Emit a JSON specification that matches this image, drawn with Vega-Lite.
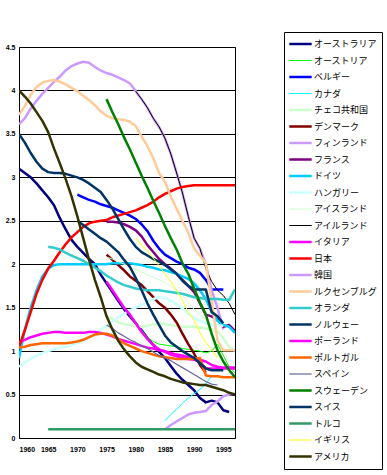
{
  "$schema": "https://vega.github.io/schema/vega-lite/v6.json",
  "autosize": "none",
  "width": 216,
  "height": 391,
  "padding": {"left": 19, "top": 47, "right": 152, "bottom": 37},
  "background": "white",
  "config": {
    "view": {"stroke": "black", "strokeWidth": 1},
    "font": "Liberation Sans"
  },
  "datasets": {
    "series": [
      {"c":"オーストラリア","y":1960,"v":3.10},{"c":"オーストラリア","y":1961,"v":3.05},{"c":"オーストラリア","y":1962,"v":3.00},{"c":"オーストラリア","y":1963,"v":2.93},{"c":"オーストラリア","y":1964,"v":2.85},{"c":"オーストラリア","y":1965,"v":2.77},{"c":"オーストラリア","y":1966,"v":2.68},{"c":"オーストラリア","y":1967,"v":2.53},{"c":"オーストラリア","y":1968,"v":2.40},{"c":"オーストラリア","y":1969,"v":2.28},{"c":"オーストラリア","y":1970,"v":2.20},{"c":"オーストラリア","y":1971,"v":2.13},{"c":"オーストラリア","y":1972,"v":2.06},{"c":"オーストラリア","y":1973,"v":2.00},{"c":"オーストラリア","y":1974,"v":1.88},{"c":"オーストラリア","y":1975,"v":1.78},{"c":"オーストラリア","y":1976,"v":1.68},{"c":"オーストラリア","y":1977,"v":1.58},{"c":"オーストラリア","y":1978,"v":1.48},{"c":"オーストラリア","y":1979,"v":1.40},{"c":"オーストラリア","y":1980,"v":1.32},{"c":"オーストラリア","y":1981,"v":1.24},{"c":"オーストラリア","y":1982,"v":1.15},{"c":"オーストラリア","y":1983,"v":1.07},{"c":"オーストラリア","y":1984,"v":0.99},{"c":"オーストラリア","y":1985,"v":0.92},{"c":"オーストラリア","y":1986,"v":0.83},{"c":"オーストラリア","y":1987,"v":0.74},{"c":"オーストラリア","y":1988,"v":0.67},{"c":"オーストラリア","y":1989,"v":0.61},{"c":"オーストラリア","y":1990,"v":0.55},{"c":"オーストラリア","y":1991,"v":0.46},{"c":"オーストラリア","y":1992,"v":0.41},{"c":"オーストラリア","y":1993,"v":0.43},{"c":"オーストラリア","y":1994,"v":0.41},{"c":"オーストラリア","y":1995,"v":0.32},{"c":"オーストラリア","y":1996,"v":0.30},
      {"c":"オーストリア","y":1979,"v":1.40},{"c":"オーストリア","y":1980,"v":1.32},{"c":"オーストリア","y":1981,"v":1.24},{"c":"オーストリア","y":1982,"v":1.16},{"c":"オーストリア","y":1983,"v":1.11},{"c":"オーストリア","y":1984,"v":1.08},{"c":"オーストリア","y":1985,"v":1.07},{"c":"オーストリア","y":1986,"v":1.06},{"c":"オーストリア","y":1987,"v":1.05},{"c":"オーストリア","y":1988,"v":1.03},{"c":"オーストリア","y":1989,"v":1.02},{"c":"オーストリア","y":1990,"v":1.01},{"c":"オーストリア","y":1991,"v":1.00},{"c":"オーストリア","y":1992,"v":0.98},{"c":"オーストリア","y":1993,"v":1.00},{"c":"オーストリア","y":1994,"v":1.08},{"c":"オーストリア","y":1995,"v":0.95},{"c":"オーストリア","y":1996,"v":0.82},{"c":"オーストリア","y":1997,"v":0.75},
      {"c":"ベルギー","y":1970,"v":2.80},{"c":"ベルギー","y":1971,"v":2.77},{"c":"ベルギー","y":1972,"v":2.74},{"c":"ベルギー","y":1973,"v":2.72},{"c":"ベルギー","y":1974,"v":2.69},{"c":"ベルギー","y":1975,"v":2.67},{"c":"ベルギー","y":1976,"v":2.65},{"c":"ベルギー","y":1977,"v":2.62},{"c":"ベルギー","y":1978,"v":2.59},{"c":"ベルギー","y":1979,"v":2.56},{"c":"ベルギー","y":1980,"v":2.52},{"c":"ベルギー","y":1981,"v":2.46},{"c":"ベルギー","y":1982,"v":2.38},{"c":"ベルギー","y":1983,"v":2.27},{"c":"ベルギー","y":1984,"v":2.18},{"c":"ベルギー","y":1985,"v":2.11},{"c":"ベルギー","y":1986,"v":2.07},{"c":"ベルギー","y":1987,"v":2.03},{"c":"ベルギー","y":1988,"v":2.00},{"c":"ベルギー","y":1989,"v":1.96},{"c":"ベルギー","y":1990,"v":1.94},{"c":"ベルギー","y":1991,"v":1.90},{"c":"ベルギー","y":1992,"v":1.82},{"c":"ベルギー","y":1993,"v":1.71},{"c":"ベルギー","y":1994,"v":1.71},{"c":"ベルギー","y":1995,"v":1.71},
      {"c":"カナダ","y":1985,"v":0.20},{"c":"カナダ","y":1986,"v":0.27},{"c":"カナダ","y":1987,"v":0.33},{"c":"カナダ","y":1988,"v":0.40},{"c":"カナダ","y":1989,"v":0.46},{"c":"カナダ","y":1990,"v":0.51},{"c":"カナダ","y":1991,"v":0.56},{"c":"カナダ","y":1992,"v":0.62},{"c":"カナダ","y":1993,"v":0.72},
      {"c":"チェコ共和国","y":1975,"v":1.40},{"c":"チェコ共和国","y":1976,"v":1.37},{"c":"チェコ共和国","y":1977,"v":1.33},{"c":"チェコ共和国","y":1978,"v":1.31},{"c":"チェコ共和国","y":1979,"v":1.30},{"c":"チェコ共和国","y":1980,"v":1.29},{"c":"チェコ共和国","y":1981,"v":1.28},{"c":"チェコ共和国","y":1982,"v":1.29},{"c":"チェコ共和国","y":1983,"v":1.31},{"c":"チェコ共和国","y":1984,"v":1.32},{"c":"チェコ共和国","y":1985,"v":1.31},{"c":"チェコ共和国","y":1986,"v":1.30},{"c":"チェコ共和国","y":1987,"v":1.29},{"c":"チェコ共和国","y":1988,"v":1.28},{"c":"チェコ共和国","y":1989,"v":1.28},{"c":"チェコ共和国","y":1990,"v":1.28},{"c":"チェコ共和国","y":1991,"v":1.27},{"c":"チェコ共和国","y":1992,"v":1.26},{"c":"チェコ共和国","y":1993,"v":1.25},{"c":"チェコ共和国","y":1994,"v":1.23},{"c":"チェコ共和国","y":1995,"v":1.15},{"c":"チェコ共和国","y":1996,"v":1.05},{"c":"チェコ共和国","y":1997,"v":1.00},
      {"c":"デンマーク","y":1975,"v":2.11},{"c":"デンマーク","y":1976,"v":2.05},{"c":"デンマーク","y":1977,"v":1.99},{"c":"デンマーク","y":1978,"v":1.93},{"c":"デンマーク","y":1979,"v":1.86},{"c":"デンマーク","y":1980,"v":1.81},{"c":"デンマーク","y":1981,"v":1.76},{"c":"デンマーク","y":1982,"v":1.69},{"c":"デンマーク","y":1983,"v":1.62},{"c":"デンマーク","y":1984,"v":1.55},{"c":"デンマーク","y":1985,"v":1.50},{"c":"デンマーク","y":1986,"v":1.42},{"c":"デンマーク","y":1987,"v":1.33},{"c":"デンマーク","y":1988,"v":1.20},{"c":"デンマーク","y":1989,"v":1.08},{"c":"デンマーク","y":1990,"v":0.97},{"c":"デンマーク","y":1991,"v":0.84},{"c":"デンマーク","y":1992,"v":0.75},
      {"c":"フィンランド","y":1960,"v":3.61},{"c":"フィンランド","y":1961,"v":3.68},{"c":"フィンランド","y":1962,"v":3.79},{"c":"フィンランド","y":1963,"v":3.88},{"c":"フィンランド","y":1964,"v":3.96},{"c":"フィンランド","y":1965,"v":4.03},{"c":"フィンランド","y":1966,"v":4.10},{"c":"フィンランド","y":1967,"v":4.16},{"c":"フィンランド","y":1968,"v":4.23},{"c":"フィンランド","y":1969,"v":4.28},{"c":"フィンランド","y":1970,"v":4.31},{"c":"フィンランド","y":1971,"v":4.33},{"c":"フィンランド","y":1972,"v":4.32},{"c":"フィンランド","y":1973,"v":4.27},{"c":"フィンランド","y":1974,"v":4.23},{"c":"フィンランド","y":1975,"v":4.20},{"c":"フィンランド","y":1976,"v":4.18},{"c":"フィンランド","y":1977,"v":4.15},{"c":"フィンランド","y":1978,"v":4.12},{"c":"フィンランド","y":1979,"v":4.08},{"c":"フィンランド","y":1980,"v":3.99},{"c":"フィンランド","y":1981,"v":3.90},{"c":"フィンランド","y":1982,"v":3.80},{"c":"フィンランド","y":1983,"v":3.68},{"c":"フィンランド","y":1984,"v":3.58},{"c":"フィンランド","y":1985,"v":3.45},{"c":"フィンランド","y":1986,"v":3.27},{"c":"フィンランド","y":1987,"v":3.05},{"c":"フィンランド","y":1988,"v":2.82},{"c":"フィンランド","y":1989,"v":2.55},{"c":"フィンランド","y":1990,"v":2.30},{"c":"フィンランド","y":1991,"v":2.18},{"c":"フィンランド","y":1992,"v":2.00},{"c":"フィンランド","y":1993,"v":1.70},{"c":"フィンランド","y":1994,"v":1.50},{"c":"フィンランド","y":1995,"v":1.25},
      {"c":"フランス","y":1975,"v":2.49},{"c":"フランス","y":1976,"v":2.49},{"c":"フランス","y":1977,"v":2.48},{"c":"フランス","y":1978,"v":2.46},{"c":"フランス","y":1979,"v":2.43},{"c":"フランス","y":1980,"v":2.39},{"c":"フランス","y":1981,"v":2.32},{"c":"フランス","y":1982,"v":2.22},{"c":"フランス","y":1983,"v":2.14},{"c":"フランス","y":1984,"v":2.06},{"c":"フランス","y":1985,"v":2.00},{"c":"フランス","y":1986,"v":1.95},{"c":"フランス","y":1987,"v":1.89},{"c":"フランス","y":1988,"v":1.82},{"c":"フランス","y":1989,"v":1.75},{"c":"フランス","y":1990,"v":1.68},{"c":"フランス","y":1991,"v":1.55},{"c":"フランス","y":1992,"v":1.42},{"c":"フランス","y":1993,"v":1.40},{"c":"フランス","y":1994,"v":1.36},{"c":"フランス","y":1995,"v":1.28},{"c":"フランス","y":1996,"v":1.30},{"c":"フランス","y":1997,"v":1.23},
      {"c":"ドイツ","y":1960,"v":0.92},{"c":"ドイツ","y":1961,"v":1.25},{"c":"ドイツ","y":1962,"v":1.50},{"c":"ドイツ","y":1963,"v":1.70},{"c":"ドイツ","y":1964,"v":1.86},{"c":"ドイツ","y":1965,"v":1.95},{"c":"ドイツ","y":1966,"v":1.99},{"c":"ドイツ","y":1967,"v":2.00},{"c":"ドイツ","y":1968,"v":2.00},{"c":"ドイツ","y":1969,"v":2.00},{"c":"ドイツ","y":1970,"v":2.00},{"c":"ドイツ","y":1971,"v":2.00},{"c":"ドイツ","y":1972,"v":2.00},{"c":"ドイツ","y":1973,"v":2.00},{"c":"ドイツ","y":1974,"v":2.00},{"c":"ドイツ","y":1975,"v":2.00},{"c":"ドイツ","y":1976,"v":2.01},{"c":"ドイツ","y":1977,"v":2.01},{"c":"ドイツ","y":1978,"v":2.01},{"c":"ドイツ","y":1979,"v":2.01},{"c":"ドイツ","y":1980,"v":2.00},{"c":"ドイツ","y":1981,"v":1.99},{"c":"ドイツ","y":1982,"v":1.97},{"c":"ドイツ","y":1983,"v":1.96},{"c":"ドイツ","y":1984,"v":1.94},{"c":"ドイツ","y":1985,"v":1.93},{"c":"ドイツ","y":1986,"v":1.91},{"c":"ドイツ","y":1987,"v":1.89},{"c":"ドイツ","y":1988,"v":1.86},{"c":"ドイツ","y":1989,"v":1.83},{"c":"ドイツ","y":1990,"v":1.78},{"c":"ドイツ","y":1991,"v":1.70},{"c":"ドイツ","y":1992,"v":1.60},{"c":"ドイツ","y":1993,"v":1.45},{"c":"ドイツ","y":1994,"v":1.35},{"c":"ドイツ","y":1995,"v":1.30},{"c":"ドイツ","y":1996,"v":1.28},{"c":"ドイツ","y":1997,"v":1.21},
      {"c":"ハンガリー","y":1960,"v":0.82},{"c":"ハンガリー","y":1961,"v":0.87},{"c":"ハンガリー","y":1962,"v":0.91},{"c":"ハンガリー","y":1963,"v":0.95},{"c":"ハンガリー","y":1964,"v":0.98},{"c":"ハンガリー","y":1965,"v":1.00},{"c":"ハンガリー","y":1966,"v":1.02},{"c":"ハンガリー","y":1967,"v":1.04},{"c":"ハンガリー","y":1968,"v":1.05},{"c":"ハンガリー","y":1969,"v":1.07},{"c":"ハンガリー","y":1970,"v":1.09},{"c":"ハンガリー","y":1971,"v":1.11},{"c":"ハンガリー","y":1972,"v":1.15},{"c":"ハンガリー","y":1973,"v":1.20},{"c":"ハンガリー","y":1974,"v":1.25},{"c":"ハンガリー","y":1975,"v":1.29},{"c":"ハンガリー","y":1976,"v":1.34},{"c":"ハンガリー","y":1977,"v":1.39},{"c":"ハンガリー","y":1978,"v":1.43},{"c":"ハンガリー","y":1979,"v":1.47},{"c":"ハンガリー","y":1980,"v":1.50},{"c":"ハンガリー","y":1981,"v":1.53},{"c":"ハンガリー","y":1982,"v":1.57},{"c":"ハンガリー","y":1983,"v":1.60},{"c":"ハンガリー","y":1984,"v":1.62},{"c":"ハンガリー","y":1985,"v":1.61},{"c":"ハンガリー","y":1986,"v":1.58},{"c":"ハンガリー","y":1987,"v":1.54},{"c":"ハンガリー","y":1988,"v":1.49},{"c":"ハンガリー","y":1989,"v":1.43},{"c":"ハンガリー","y":1990,"v":1.38},{"c":"ハンガリー","y":1991,"v":1.35},{"c":"ハンガリー","y":1992,"v":1.32},{"c":"ハンガリー","y":1993,"v":1.30},{"c":"ハンガリー","y":1994,"v":1.30},{"c":"ハンガリー","y":1995,"v":1.29},
      {"c":"アイスランド","y":1975,"v":2.08},{"c":"アイスランド","y":1976,"v":2.06},{"c":"アイスランド","y":1977,"v":2.03},{"c":"アイスランド","y":1978,"v":2.00},{"c":"アイスランド","y":1979,"v":1.97},{"c":"アイスランド","y":1980,"v":1.94},{"c":"アイスランド","y":1981,"v":1.91},{"c":"アイスランド","y":1982,"v":1.88},{"c":"アイスランド","y":1983,"v":1.85},{"c":"アイスランド","y":1984,"v":1.82},{"c":"アイスランド","y":1985,"v":1.79},{"c":"アイスランド","y":1986,"v":1.75},{"c":"アイスランド","y":1987,"v":1.70},{"c":"アイスランド","y":1988,"v":1.64},{"c":"アイスランド","y":1989,"v":1.56},{"c":"アイスランド","y":1990,"v":1.48},{"c":"アイスランド","y":1991,"v":1.42},{"c":"アイスランド","y":1992,"v":1.36},{"c":"アイスランド","y":1993,"v":1.30},
      {"c":"アイルランド","y":1980,"v":3.99},{"c":"アイルランド","y":1981,"v":3.90},{"c":"アイルランド","y":1982,"v":3.80},{"c":"アイルランド","y":1983,"v":3.68},{"c":"アイルランド","y":1984,"v":3.58},{"c":"アイルランド","y":1985,"v":3.45},{"c":"アイルランド","y":1986,"v":3.27},{"c":"アイルランド","y":1987,"v":3.05},{"c":"アイルランド","y":1988,"v":2.82},{"c":"アイルランド","y":1989,"v":2.55},{"c":"アイルランド","y":1990,"v":2.30},{"c":"アイルランド","y":1991,"v":2.18},{"c":"アイルランド","y":1992,"v":1.95},{"c":"アイルランド","y":1993,"v":1.80},{"c":"アイルランド","y":1994,"v":1.70},{"c":"アイルランド","y":1995,"v":1.64},{"c":"アイルランド","y":1996,"v":1.55},{"c":"アイルランド","y":1997,"v":1.42},
      {"c":"イタリア","y":1960,"v":1.10},{"c":"イタリア","y":1961,"v":1.13},{"c":"イタリア","y":1962,"v":1.16},{"c":"イタリア","y":1963,"v":1.18},{"c":"イタリア","y":1964,"v":1.20},{"c":"イタリア","y":1965,"v":1.21},{"c":"イタリア","y":1966,"v":1.22},{"c":"イタリア","y":1967,"v":1.22},{"c":"イタリア","y":1968,"v":1.21},{"c":"イタリア","y":1969,"v":1.21},{"c":"イタリア","y":1970,"v":1.21},{"c":"イタリア","y":1971,"v":1.21},{"c":"イタリア","y":1972,"v":1.22},{"c":"イタリア","y":1973,"v":1.22},{"c":"イタリア","y":1974,"v":1.21},{"c":"イタリア","y":1975,"v":1.19},{"c":"イタリア","y":1976,"v":1.17},{"c":"イタリア","y":1977,"v":1.14},{"c":"イタリア","y":1978,"v":1.12},{"c":"イタリア","y":1979,"v":1.10},{"c":"イタリア","y":1980,"v":1.08},{"c":"イタリア","y":1981,"v":1.06},{"c":"イタリア","y":1982,"v":1.04},{"c":"イタリア","y":1983,"v":1.03},{"c":"イタリア","y":1984,"v":1.01},{"c":"イタリア","y":1985,"v":1.00},{"c":"イタリア","y":1986,"v":0.98},{"c":"イタリア","y":1987,"v":0.96},{"c":"イタリア","y":1988,"v":0.95},{"c":"イタリア","y":1989,"v":0.93},{"c":"イタリア","y":1990,"v":0.92},{"c":"イタリア","y":1991,"v":0.90},{"c":"イタリア","y":1992,"v":0.88},{"c":"イタリア","y":1993,"v":0.84},{"c":"イタリア","y":1994,"v":0.82},{"c":"イタリア","y":1995,"v":0.81},{"c":"イタリア","y":1996,"v":0.81},{"c":"イタリア","y":1997,"v":0.81},
      {"c":"日本","y":1960,"v":1.05},{"c":"日本","y":1961,"v":1.24},{"c":"日本","y":1962,"v":1.45},{"c":"日本","y":1963,"v":1.66},{"c":"日本","y":1964,"v":1.82},{"c":"日本","y":1965,"v":1.95},{"c":"日本","y":1966,"v":2.04},{"c":"日本","y":1967,"v":2.14},{"c":"日本","y":1968,"v":2.23},{"c":"日本","y":1969,"v":2.31},{"c":"日本","y":1970,"v":2.37},{"c":"日本","y":1971,"v":2.43},{"c":"日本","y":1972,"v":2.47},{"c":"日本","y":1973,"v":2.49},{"c":"日本","y":1974,"v":2.50},{"c":"日本","y":1975,"v":2.51},{"c":"日本","y":1976,"v":2.54},{"c":"日本","y":1977,"v":2.56},{"c":"日本","y":1978,"v":2.58},{"c":"日本","y":1979,"v":2.60},{"c":"日本","y":1980,"v":2.62},{"c":"日本","y":1981,"v":2.65},{"c":"日本","y":1982,"v":2.68},{"c":"日本","y":1983,"v":2.72},{"c":"日本","y":1984,"v":2.77},{"c":"日本","y":1985,"v":2.81},{"c":"日本","y":1986,"v":2.84},{"c":"日本","y":1987,"v":2.87},{"c":"日本","y":1988,"v":2.89},{"c":"日本","y":1989,"v":2.90},{"c":"日本","y":1990,"v":2.91},{"c":"日本","y":1991,"v":2.91},{"c":"日本","y":1992,"v":2.91},{"c":"日本","y":1993,"v":2.91},{"c":"日本","y":1994,"v":2.91},{"c":"日本","y":1995,"v":2.91},{"c":"日本","y":1996,"v":2.91},{"c":"日本","y":1997,"v":2.91},
      {"c":"韓国","y":1985,"v":0.10},{"c":"韓国","y":1986,"v":0.15},{"c":"韓国","y":1987,"v":0.19},{"c":"韓国","y":1988,"v":0.23},{"c":"韓国","y":1989,"v":0.27},{"c":"韓国","y":1990,"v":0.29},{"c":"韓国","y":1991,"v":0.30},{"c":"韓国","y":1992,"v":0.31},{"c":"韓国","y":1993,"v":0.38},{"c":"韓国","y":1994,"v":0.42},{"c":"韓国","y":1995,"v":0.48},{"c":"韓国","y":1996,"v":0.50},{"c":"韓国","y":1997,"v":0.51},
      {"c":"ルクセンブルグ","y":1960,"v":3.72},{"c":"ルクセンブルグ","y":1961,"v":3.82},{"c":"ルクセンブルグ","y":1962,"v":3.95},{"c":"ルクセンブルグ","y":1963,"v":4.04},{"c":"ルクセンブルグ","y":1964,"v":4.09},{"c":"ルクセンブルグ","y":1965,"v":4.11},{"c":"ルクセンブルグ","y":1966,"v":4.12},{"c":"ルクセンブルグ","y":1967,"v":4.10},{"c":"ルクセンブルグ","y":1968,"v":4.07},{"c":"ルクセンブルグ","y":1969,"v":4.03},{"c":"ルクセンブルグ","y":1970,"v":3.99},{"c":"ルクセンブルグ","y":1971,"v":3.94},{"c":"ルクセンブルグ","y":1972,"v":3.89},{"c":"ルクセンブルグ","y":1973,"v":3.83},{"c":"ルクセンブルグ","y":1974,"v":3.76},{"c":"ルクセンブルグ","y":1975,"v":3.71},{"c":"ルクセンブルグ","y":1976,"v":3.68},{"c":"ルクセンブルグ","y":1977,"v":3.67},{"c":"ルクセンブルグ","y":1978,"v":3.66},{"c":"ルクセンブルグ","y":1979,"v":3.64},{"c":"ルクセンブルグ","y":1980,"v":3.59},{"c":"ルクセンブルグ","y":1981,"v":3.47},{"c":"ルクセンブルグ","y":1982,"v":3.36},{"c":"ルクセンブルグ","y":1983,"v":3.22},{"c":"ルクセンブルグ","y":1984,"v":3.05},{"c":"ルクセンブルグ","y":1985,"v":2.95},{"c":"ルクセンブルグ","y":1986,"v":2.78},{"c":"ルクセンブルグ","y":1987,"v":2.64},{"c":"ルクセンブルグ","y":1988,"v":2.50},{"c":"ルクセンブルグ","y":1989,"v":2.36},{"c":"ルクセンブルグ","y":1990,"v":2.18},{"c":"ルクセンブルグ","y":1991,"v":2.10},{"c":"ルクセンブルグ","y":1992,"v":2.01},{"c":"ルクセンブルグ","y":1993,"v":1.58},{"c":"ルクセンブルグ","y":1994,"v":1.12},{"c":"ルクセンブルグ","y":1995,"v":1.01},{"c":"ルクセンブルグ","y":1996,"v":1.01},{"c":"ルクセンブルグ","y":1997,"v":1.01},
      {"c":"オランダ","y":1965,"v":2.20},{"c":"オランダ","y":1966,"v":2.19},{"c":"オランダ","y":1967,"v":2.17},{"c":"オランダ","y":1968,"v":2.13},{"c":"オランダ","y":1969,"v":2.10},{"c":"オランダ","y":1970,"v":2.07},{"c":"オランダ","y":1971,"v":2.04},{"c":"オランダ","y":1972,"v":2.00},{"c":"オランダ","y":1973,"v":1.96},{"c":"オランダ","y":1974,"v":1.92},{"c":"オランダ","y":1975,"v":1.87},{"c":"オランダ","y":1976,"v":1.83},{"c":"オランダ","y":1977,"v":1.79},{"c":"オランダ","y":1978,"v":1.76},{"c":"オランダ","y":1979,"v":1.74},{"c":"オランダ","y":1980,"v":1.72},{"c":"オランダ","y":1981,"v":1.71},{"c":"オランダ","y":1982,"v":1.70},{"c":"オランダ","y":1983,"v":1.70},{"c":"オランダ","y":1984,"v":1.70},{"c":"オランダ","y":1985,"v":1.69},{"c":"オランダ","y":1986,"v":1.68},{"c":"オランダ","y":1987,"v":1.67},{"c":"オランダ","y":1988,"v":1.66},{"c":"オランダ","y":1989,"v":1.64},{"c":"オランダ","y":1990,"v":1.62},{"c":"オランダ","y":1991,"v":1.61},{"c":"オランダ","y":1992,"v":1.60},{"c":"オランダ","y":1993,"v":1.60},{"c":"オランダ","y":1994,"v":1.60},{"c":"オランダ","y":1995,"v":1.59},{"c":"オランダ","y":1996,"v":1.59},{"c":"オランダ","y":1997,"v":1.71},
      {"c":"ノルウェー","y":1960,"v":3.50},{"c":"ノルウェー","y":1961,"v":3.40},{"c":"ノルウェー","y":1962,"v":3.28},{"c":"ノルウェー","y":1963,"v":3.18},{"c":"ノルウェー","y":1964,"v":3.10},{"c":"ノルウェー","y":1965,"v":3.06},{"c":"ノルウェー","y":1966,"v":3.05},{"c":"ノルウェー","y":1967,"v":3.05},{"c":"ノルウェー","y":1968,"v":3.04},{"c":"ノルウェー","y":1969,"v":3.02},{"c":"ノルウェー","y":1970,"v":3.00},{"c":"ノルウェー","y":1971,"v":2.97},{"c":"ノルウェー","y":1972,"v":2.93},{"c":"ノルウェー","y":1973,"v":2.88},{"c":"ノルウェー","y":1974,"v":2.83},{"c":"ノルウェー","y":1975,"v":2.74},{"c":"ノルウェー","y":1976,"v":2.64},{"c":"ノルウェー","y":1977,"v":2.52},{"c":"ノルウェー","y":1978,"v":2.40},{"c":"ノルウェー","y":1979,"v":2.29},{"c":"ノルウェー","y":1980,"v":2.20},{"c":"ノルウェー","y":1981,"v":2.14},{"c":"ノルウェー","y":1982,"v":2.10},{"c":"ノルウェー","y":1983,"v":2.06},{"c":"ノルウェー","y":1984,"v":2.03},{"c":"ノルウェー","y":1985,"v":1.99},{"c":"ノルウェー","y":1986,"v":1.94},{"c":"ノルウェー","y":1987,"v":1.89},{"c":"ノルウェー","y":1988,"v":1.81},{"c":"ノルウェー","y":1989,"v":1.75},{"c":"ノルウェー","y":1990,"v":1.71},{"c":"ノルウェー","y":1991,"v":1.71},{"c":"ノルウェー","y":1992,"v":1.71},{"c":"ノルウェー","y":1993,"v":1.45},{"c":"ノルウェー","y":1994,"v":1.40},{"c":"ノルウェー","y":1995,"v":1.32},
      {"c":"ポーランド","y":1975,"v":1.80},{"c":"ポーランド","y":1976,"v":1.70},{"c":"ポーランド","y":1977,"v":1.60},{"c":"ポーランド","y":1978,"v":1.50},{"c":"ポーランド","y":1979,"v":1.42},{"c":"ポーランド","y":1980,"v":1.32},{"c":"ポーランド","y":1981,"v":1.22},{"c":"ポーランド","y":1982,"v":1.14},{"c":"ポーランド","y":1983,"v":1.07},{"c":"ポーランド","y":1984,"v":1.02},{"c":"ポーランド","y":1985,"v":0.99},{"c":"ポーランド","y":1986,"v":0.96},{"c":"ポーランド","y":1987,"v":0.94},{"c":"ポーランド","y":1988,"v":0.92},{"c":"ポーランド","y":1989,"v":0.91},{"c":"ポーランド","y":1990,"v":0.90},{"c":"ポーランド","y":1991,"v":0.88},{"c":"ポーランド","y":1992,"v":0.80},{"c":"ポーランド","y":1993,"v":0.80},{"c":"ポーランド","y":1994,"v":0.80},{"c":"ポーランド","y":1995,"v":0.80},{"c":"ポーランド","y":1996,"v":0.80},{"c":"ポーランド","y":1997,"v":0.80},
      {"c":"ポルトガル","y":1960,"v":1.04},{"c":"ポルトガル","y":1961,"v":1.05},{"c":"ポルトガル","y":1962,"v":1.07},{"c":"ポルトガル","y":1963,"v":1.08},{"c":"ポルトガル","y":1964,"v":1.09},{"c":"ポルトガル","y":1965,"v":1.09},{"c":"ポルトガル","y":1966,"v":1.09},{"c":"ポルトガル","y":1967,"v":1.09},{"c":"ポルトガル","y":1968,"v":1.09},{"c":"ポルトガル","y":1969,"v":1.10},{"c":"ポルトガル","y":1970,"v":1.11},{"c":"ポルトガル","y":1971,"v":1.13},{"c":"ポルトガル","y":1972,"v":1.16},{"c":"ポルトガル","y":1973,"v":1.19},{"c":"ポルトガル","y":1974,"v":1.20},{"c":"ポルトガル","y":1975,"v":1.20},{"c":"ポルトガル","y":1976,"v":1.18},{"c":"ポルトガル","y":1977,"v":1.14},{"c":"ポルトガル","y":1978,"v":1.09},{"c":"ポルトガル","y":1979,"v":1.06},{"c":"ポルトガル","y":1980,"v":1.03},{"c":"ポルトガル","y":1981,"v":1.00},{"c":"ポルトガル","y":1982,"v":0.98},{"c":"ポルトガル","y":1983,"v":0.96},{"c":"ポルトガル","y":1984,"v":0.94},{"c":"ポルトガル","y":1985,"v":0.93},{"c":"ポルトガル","y":1986,"v":0.92},{"c":"ポルトガル","y":1987,"v":0.91},{"c":"ポルトガル","y":1988,"v":0.91},{"c":"ポルトガル","y":1989,"v":0.91},{"c":"ポルトガル","y":1990,"v":0.91},{"c":"ポルトガル","y":1991,"v":0.92},{"c":"ポルトガル","y":1992,"v":0.72},{"c":"ポルトガル","y":1993,"v":0.71},{"c":"ポルトガル","y":1994,"v":0.71},{"c":"ポルトガル","y":1995,"v":0.70},{"c":"ポルトガル","y":1996,"v":0.70},{"c":"ポルトガル","y":1997,"v":0.70},
      {"c":"スペイン","y":1975,"v":1.30},{"c":"スペイン","y":1976,"v":1.26},{"c":"スペイン","y":1977,"v":1.21},{"c":"スペイン","y":1978,"v":1.17},{"c":"スペイン","y":1979,"v":1.13},{"c":"スペイン","y":1980,"v":1.10},{"c":"スペイン","y":1981,"v":1.06},{"c":"スペイン","y":1982,"v":1.03},{"c":"スペイン","y":1983,"v":0.99},{"c":"スペイン","y":1984,"v":0.95},{"c":"スペイン","y":1985,"v":0.92},{"c":"スペイン","y":1986,"v":0.89},{"c":"スペイン","y":1987,"v":0.85},{"c":"スペイン","y":1988,"v":0.81},{"c":"スペイン","y":1989,"v":0.77},{"c":"スペイン","y":1990,"v":0.73},{"c":"スペイン","y":1991,"v":0.69},{"c":"スペイン","y":1992,"v":0.65},{"c":"スペイン","y":1993,"v":0.62},{"c":"スペイン","y":1994,"v":0.61},
      {"c":"スウェーデン","y":1975,"v":3.90},{"c":"スウェーデン","y":1976,"v":3.75},{"c":"スウェーデン","y":1977,"v":3.61},{"c":"スウェーデン","y":1978,"v":3.46},{"c":"スウェーデン","y":1979,"v":3.32},{"c":"スウェーデン","y":1980,"v":3.17},{"c":"スウェーデン","y":1981,"v":3.02},{"c":"スウェーデン","y":1982,"v":2.88},{"c":"スウェーデン","y":1983,"v":2.73},{"c":"スウェーデン","y":1984,"v":2.59},{"c":"スウェーデン","y":1985,"v":2.44},{"c":"スウェーデン","y":1986,"v":2.30},{"c":"スウェーデン","y":1987,"v":2.17},{"c":"スウェーデン","y":1988,"v":2.01},{"c":"スウェーデン","y":1989,"v":1.89},{"c":"スウェーデン","y":1990,"v":1.72},{"c":"スウェーデン","y":1991,"v":1.56},{"c":"スウェーデン","y":1992,"v":1.42},{"c":"スウェーデン","y":1993,"v":1.20},{"c":"スウェーデン","y":1994,"v":1.01},{"c":"スウェーデン","y":1995,"v":0.88},{"c":"スウェーデン","y":1996,"v":0.78},{"c":"スウェーデン","y":1997,"v":0.70},
      {"c":"スイス","y":1970,"v":2.50},{"c":"スイス","y":1971,"v":2.45},{"c":"スイス","y":1972,"v":2.40},{"c":"スイス","y":1973,"v":2.35},{"c":"スイス","y":1974,"v":2.30},{"c":"スイス","y":1975,"v":2.26},{"c":"スイス","y":1976,"v":2.20},{"c":"スイス","y":1977,"v":2.14},{"c":"スイス","y":1978,"v":2.05},{"c":"スイス","y":1979,"v":1.97},{"c":"スイス","y":1980,"v":1.84},{"c":"スイス","y":1981,"v":1.70},{"c":"スイス","y":1982,"v":1.55},{"c":"スイス","y":1983,"v":1.42},{"c":"スイス","y":1984,"v":1.30},{"c":"スイス","y":1985,"v":1.18},{"c":"スイス","y":1986,"v":1.10},{"c":"スイス","y":1987,"v":1.05},{"c":"スイス","y":1988,"v":1.00},{"c":"スイス","y":1989,"v":0.96},{"c":"スイス","y":1990,"v":0.92},{"c":"スイス","y":1991,"v":0.86},{"c":"スイス","y":1992,"v":0.80},{"c":"スイス","y":1993,"v":0.78},{"c":"スイス","y":1994,"v":0.78},{"c":"スイス","y":1995,"v":0.78},
      {"c":"トルコ","y":1965,"v":0.10},{"c":"トルコ","y":1970,"v":0.10},{"c":"トルコ","y":1975,"v":0.10},{"c":"トルコ","y":1980,"v":0.10},{"c":"トルコ","y":1985,"v":0.10},{"c":"トルコ","y":1990,"v":0.10},{"c":"トルコ","y":1995,"v":0.10},{"c":"トルコ","y":1997,"v":0.10},
      {"c":"イギリス","y":1980,"v":2.30},{"c":"イギリス","y":1981,"v":2.22},{"c":"イギリス","y":1982,"v":2.15},{"c":"イギリス","y":1983,"v":2.07},{"c":"イギリス","y":1984,"v":1.98},{"c":"イギリス","y":1985,"v":1.89},{"c":"イギリス","y":1986,"v":1.80},{"c":"イギリス","y":1987,"v":1.70},{"c":"イギリス","y":1988,"v":1.58},{"c":"イギリス","y":1989,"v":1.45},{"c":"イギリス","y":1990,"v":1.35},{"c":"イギリス","y":1991,"v":1.21},{"c":"イギリス","y":1992,"v":1.10},{"c":"イギリス","y":1993,"v":1.02},{"c":"イギリス","y":1994,"v":0.92},
      {"c":"アメリカ","y":1960,"v":4.00},{"c":"アメリカ","y":1961,"v":3.93},{"c":"アメリカ","y":1962,"v":3.85},{"c":"アメリカ","y":1963,"v":3.75},{"c":"アメリカ","y":1964,"v":3.65},{"c":"アメリカ","y":1965,"v":3.52},{"c":"アメリカ","y":1966,"v":3.33},{"c":"アメリカ","y":1967,"v":3.16},{"c":"アメリカ","y":1968,"v":2.98},{"c":"アメリカ","y":1969,"v":2.78},{"c":"アメリカ","y":1970,"v":2.55},{"c":"アメリカ","y":1971,"v":2.30},{"c":"アメリカ","y":1972,"v":2.05},{"c":"アメリカ","y":1973,"v":1.82},{"c":"アメリカ","y":1974,"v":1.62},{"c":"アメリカ","y":1975,"v":1.40},{"c":"アメリカ","y":1976,"v":1.25},{"c":"アメリカ","y":1977,"v":1.12},{"c":"アメリカ","y":1978,"v":1.02},{"c":"アメリカ","y":1979,"v":0.94},{"c":"アメリカ","y":1980,"v":0.87},{"c":"アメリカ","y":1981,"v":0.82},{"c":"アメリカ","y":1982,"v":0.79},{"c":"アメリカ","y":1983,"v":0.76},{"c":"アメリカ","y":1984,"v":0.73},{"c":"アメリカ","y":1985,"v":0.71},{"c":"アメリカ","y":1986,"v":0.68},{"c":"アメリカ","y":1987,"v":0.66},{"c":"アメリカ","y":1988,"v":0.64},{"c":"アメリカ","y":1989,"v":0.63},{"c":"アメリカ","y":1990,"v":0.62},{"c":"アメリカ","y":1991,"v":0.61},{"c":"アメリカ","y":1992,"v":0.61},{"c":"アメリカ","y":1993,"v":0.59},{"c":"アメリカ","y":1994,"v":0.57},{"c":"アメリカ","y":1995,"v":0.55},{"c":"アメリカ","y":1996,"v":0.52},{"c":"アメリカ","y":1997,"v":0.50}
    ]
  },
  "data": {"name": "series"},
  "mark": {"type": "line", "strokeJoin": "round", "clip": true},
  "encoding": {
    "x": {
      "field": "y", "type": "quantitative",
      "scale": {"domain": [1960, 1997], "nice": false, "zero": false},
      "axis": {"title": null, "values": [1960,1965,1970,1975,1980,1985,1990,1995], "format": "d", "grid": false, "domain": false, "ticks": false, "labelFontSize": 7, "labelFont": "Liberation Sans", "labelFontWeight": "bold", "labelColor": "black", "labelPadding": 7}
    },
    "y": {
      "field": "v", "type": "quantitative",
      "scale": {"domain": [0, 4.5], "nice": false},
      "axis": {"title": null, "values": [0,0.5,1,1.5,2,2.5,3,3.5,4,4.5], "labelExpr": "'' + datum.value", "grid": true, "gridColor": "black", "gridWidth": 1, "gridOpacity": 1, "domain": false, "ticks": false, "labelFontSize": 7, "labelFont": "Liberation Sans", "labelFontWeight": "bold", "labelColor": "black", "labelPadding": 4}
    },
    "color": {
      "field": "c", "type": "nominal",
      "scale": {
        "domain": ["オーストラリア","オーストリア","ベルギー","カナダ","チェコ共和国","デンマーク","フィンランド","フランス","ドイツ","ハンガリー","アイスランド","アイルランド","イタリア","日本","韓国","ルクセンブルグ","オランダ","ノルウェー","ポーランド","ポルトガル","スペイン","スウェーデン","スイス","トルコ","イギリス","アメリカ"],
        "range": ["#000080","#00FF00","#0000FF","#00FFFF","#CCFFCC","#800000","#CC99FF","#800080","#00CCFF","#CCFFFF","#CCFFCC","#000000","#FF00FF","#FF0000","#CC99FF","#FFCC99","#33CCCC","#003366","#FF00FF","#FF6600","#666699","#008000","#003366","#339966","#FFFF00","#333300"]
      },
      "legend": {
        "title": null, "orient": "none", "legendX": 265, "legendY": -15,
        "symbolType": "stroke", "symbolSize": 500, "labelFontSize": 9, "labelFont": "Noto Sans CJK JP", "labelColor": "black",
        "strokeColor": "black", "fillColor": "white", "padding": 4, "rowPadding": 0.5, "clipHeight": 16, "labelOffset": 1, "labelLimit": 200
      }
    },
    "strokeWidth": {
      "field": "c", "type": "nominal",
      "scale": {
        "type": "ordinal",
        "domain": ["オーストラリア","オーストリア","ベルギー","カナダ","チェコ共和国","デンマーク","フィンランド","フランス","ドイツ","ハンガリー","アイスランド","アイルランド","イタリア","日本","韓国","ルクセンブルグ","オランダ","ノルウェー","ポーランド","ポルトガル","スペイン","スウェーデン","スイス","トルコ","イギリス","アメリカ"],
        "range": [2.5,1,2.5,1,2.5,2.5,2.5,2.5,2.5,2.5,1,1,2.5,2.5,2.5,2.5,2.5,2.5,2.5,2.5,1.2,2.5,2.5,2.5,1,2.5]
      }
    }
  }
}
